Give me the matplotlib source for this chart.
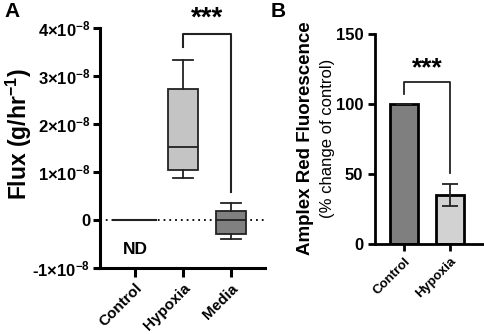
import matplotlib
matplotlib.use('Agg')
import matplotlib.pyplot as plt

plt.rcParams['font.family'] = ['Liberation Sans', 'DejaVu Sans']
plt.rcParams['mathtext.fontset'] = 'custom'
plt.rcParams['mathtext.rm'] = 'Liberation Sans:weight=bold'
plt.rcParams['mathtext.bf'] = 'Liberation Sans:weight=bold'
plt.rcParams['mathtext.default'] = 'bf'

# panel A: flux box plots
groups_a = ['Control', 'Hypoxia', 'Media']
whislo = [0.0, 0.87e-8, -0.40e-8]
q1 = [0.0, 1.05e-8, -0.30e-8]
med = [0.0, 1.52e-8, 0.0]
q3 = [0.0, 2.73e-8, 0.18e-8]
whishi = [0.0, 3.33e-8, 0.35e-8]
box_colors = ['white', '#c4c4c4', '#808080']
yticks_a = [-1e-8, 0, 1e-8, 2e-8, 3e-8, 4e-8]
ytick_labels_a = [r'-1$\times$10$^{-8}$', '0', r'1$\times$10$^{-8}$',
                  r'2$\times$10$^{-8}$', r'3$\times$10$^{-8}$', r'4$\times$10$^{-8}$']

# panel B: amplex red bars
groups_b = ['Control', 'Hypoxia']
fluor = [100, 35]
fluor_err = [0, 8]
bar_colors = ['#7f7f7f', '#d2d2d2']
yticks_b = [0, 50, 100, 150]

fig = plt.figure(figsize=(4.84, 3.34), dpi=100)

# ---------- A ----------
ax = fig.add_axes([0.2066, 0.1976, 0.341, 0.7186])
stats = []
for i in range(len(groups_a)):
    stats.append({'whislo': whislo[i], 'q1': q1[i], 'med': med[i],
                  'q3': q3[i], 'whishi': whishi[i], 'fliers': []})
ax.axhline(0, color='black', lw=1.3, ls=(0, (1, 2.2)), zorder=1)
bp = ax.bxp(stats, positions=[0, 1, 2], widths=[0.9, 0.63, 0.63],
            capwidths=[0.0, 0.42, 0.42], patch_artist=True,
            boxprops=dict(lw=1.3, edgecolor='#222222'),
            medianprops=dict(color='#222222', lw=1.3),
            whiskerprops=dict(color='#222222', lw=1.3),
            capprops=dict(color='#222222', lw=1.3), zorder=3)
for patch, c in zip(bp['boxes'], box_colors):
    patch.set_facecolor(c)
bp['boxes'][0].set_linewidth(1.5)

ax.set_ylim(-1e-8, 4e-8)
ax.set_xlim(-0.73, 2.71)
ax.set_yticks(yticks_a)
ax.set_yticklabels(ytick_labels_a, fontweight='bold', fontsize=12)
ax.set_xticks([0, 1, 2])
ax.set_xticklabels(groups_a, rotation=45, ha='right', rotation_mode='anchor',
                   fontweight='bold', fontsize=11)
for s in ['top', 'right']:
    ax.spines[s].set_visible(False)
for s in ['left', 'bottom']:
    ax.spines[s].set_linewidth(2.2)
ax.tick_params(axis='y', width=2.2, length=5, pad=2)
ax.tick_params(axis='x', width=2.2, length=6.5, pad=3)
ax.set_ylabel('Flux (g/hr$^{-1}$)', fontsize=16.5, fontweight='bold')
ax.yaxis.set_label_coords(-0.40, 0.56)

ax.plot([1, 1, 2, 2], [3.6e-8, 3.87e-8, 3.87e-8, 0.58e-8], color='#222222',
        lw=1.5, clip_on=False)
ax.text(1.5, 3.92e-8, '***', ha='center', va='bottom', fontsize=20,
        fontweight='bold')
ax.text(0, -0.62e-8, 'ND', ha='center', va='center', fontsize=12.5,
        fontweight='bold')
fig.text(0.01, 0.965, 'A', fontsize=15, fontweight='bold', va='center')

# ---------- B ----------
bx = fig.add_axes([0.7748, 0.2695, 0.2232, 0.6286])
bx.bar([0, 1], fluor, width=0.6, color=bar_colors, edgecolor='black',
       linewidth=2.0, zorder=2)
bx.errorbar([0, 1], fluor, yerr=fluor_err, fmt='none', ecolor='#222222',
            elinewidth=1.3, capsize=6, capthick=1.3, zorder=3)
bx.set_ylim(0, 150)
bx.set_xlim(-0.63, 1.72)
bx.set_yticks(yticks_b)
bx.set_yticklabels([str(v) for v in yticks_b], fontweight='bold', fontsize=12)
bx.set_xticks([0, 1])
bx.set_xticklabels(groups_b, rotation=45, ha='right', rotation_mode='anchor',
                   fontweight='bold', fontsize=9.5)
for s in ['top', 'right']:
    bx.spines[s].set_visible(False)
for s in ['left', 'bottom']:
    bx.spines[s].set_linewidth(2.0)
bx.tick_params(axis='y', width=2.0, length=5)
bx.tick_params(axis='x', width=2.0, length=5, pad=3)

bx.plot([0, 0, 1, 1], [107, 116, 116, 51], color='#222222', lw=1.3)
bx.text(0.5, 117, '***', ha='center', va='bottom', fontsize=19,
        fontweight='bold')
fig.text(0.632, 0.585, 'Amplex Red Fluorescence', rotation=90, fontsize=13.5,
         fontweight='bold', ha='center', va='center')
fig.text(0.677, 0.585, '(% change of control)', rotation=90, fontsize=12,
         ha='center', va='center')
fig.text(0.56, 0.965, 'B', fontsize=15, fontweight='bold', va='center')

fig.savefig('out.png', dpi=100)
